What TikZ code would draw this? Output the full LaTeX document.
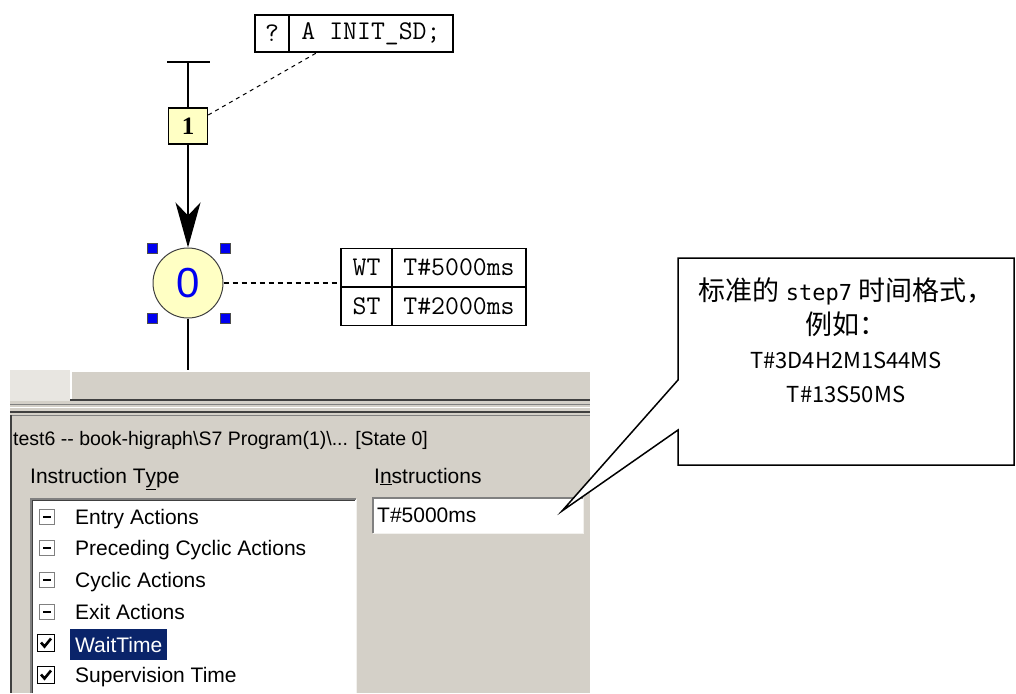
\documentclass[tikz,border=0pt]{standalone}
\usepackage{fontspec}
\setmainfont{Liberation Sans}
\newfontfamily\cjkfont{Noto Sans CJK SC}
\newfontfamily\stepfont{DejaVu Sans Mono}
\newfontfamily\serifbf{Liberation Serif}[Scale=1]
\usetikzlibrary{arrows.meta,positioning}
\definecolor{stepfill}{HTML}{FFFFC4}
\definecolor{handleblue}{HTML}{0000F0}
\definecolor{winface}{HTML}{D4D0C8}
\definecolor{winshadow}{HTML}{808080}
\definecolor{windark}{HTML}{404040}
\definecolor{winlight}{HTML}{F2F1EE}
\definecolor{hatchgray}{HTML}{E8E6E1}
\definecolor{selblue}{HTML}{0A246A}

\begin{document}
\begin{tikzpicture}[x=1pt, y=-1pt,
  ui/.style={font=\fontsize{21}{25}\selectfont, inner sep=0pt},
  cell/.style={draw, line width=1.5pt, outer sep=0pt, minimum height=38.5pt, inner sep=0pt, font=\ttfamily\fontsize{27}{27}\selectfont},
  trans/.style={draw, line width=1.5pt, fill=stepfill, minimum width=39pt, minimum height=36pt, inner sep=0pt, font=\serifbf\bfseries\fontsize{25}{25}\selectfont},
  stepnode/.style={circle, draw=black!75, line width=1pt, fill=stepfill, minimum size=70pt, inner sep=0pt, text=handleblue, font=\fontsize{42}{42}\selectfont},
  handle/.style={draw=black!70, fill=handleblue, minimum size=10pt, inner sep=0pt},
  minusbox/.style={draw=winshadow, line width=1pt, fill=white, minimum size=15pt, inner sep=0pt},
  checkbox/.style={draw=black, line width=1.5pt, fill=white, minimum size=17pt, inner sep=0pt},
  editbox/.style={fill=white, minimum width=210pt, minimum height=35pt, text width=202pt, align=left, inner xsep=4pt, inner ysep=0pt, font=\fontsize{21}{25}\selectfont},
  notetext/.style={align=center, inner sep=0pt, font=\cjkfont\fontsize{27}{34}\selectfont}]
\useasboundingbox (0,0) rectangle (1016,693);

% window below the chart
\fill[hatchgray] (10,370) rectangle (70,401);
\fill[winface] (70,370) rectangle (590,401);
\draw[white, line width=1.5pt] (71,400) |- (590,371);
\draw[windark, line width=2pt] (70,400) -- (590,400);
\fill[winface] (10,401) rectangle (590,693);
\draw[winshadow, line width=1pt] (10,404) -- (590,404);
\draw[white, line width=1pt] (10,407.5) -- (590,407.5);
\draw[windark, line width=2pt] (10,412) -- (590,412);
\draw[winshadow, line width=1.5pt] (10,415.5) -- (590,415.5);
\draw[windark, line width=2pt] (11,415) -- (11,693);

\node[ui, anchor=base west, font=\fontsize{19.5}{24}\selectfont] (title) at (13,445) {test6 -{}- book-higraph\textbackslash S7 Program(1)\textbackslash... [State 0]};
\node[ui, anchor=base west] (typelbl) at (30,483) {Instruction T\underline{y}pe};
\node[ui, anchor=base west] (instrlbl) at (374,483) {I\underline{n}structions};

\fill[white] (30,498) rectangle (356,693);
\draw[winshadow, line width=1.5pt] (30.75,693) |- (356,498.75);
\draw[windark, line width=1.5pt] (32.25,693) |- (355,500.25);
\draw[winlight, line width=1.5pt] (356.25,499) -- (356.25,693);

\foreach \y/\t [count=\i] in {517/Entry Actions, 548/Preceding Cyclic Actions, 580/Cyclic Actions, 612/Exit Actions}{
  \node[minusbox] (mb\i) at (47,\y) {};
  \draw[line width=1.5pt] ([xshift=-4pt]mb\i.center) -- ([xshift=4pt]mb\i.center);
  \node[ui, anchor=base west] (it\i) at (75,\y+7.5) {\t};
}
\node[checkbox] (cb1) at (46,643) {};
\node[checkbox] (cb2) at (46,675) {};
\foreach \c in {cb1,cb2}
  \draw[line width=2.6pt] ([shift={(-5,-0.5)}]\c.center) -- ([shift={(-1.5,3.5)}]\c.center) -- ([shift={(5,-4.5)}]\c.center);
\node[ui, anchor=west, fill=selblue, text=white, minimum height=31pt, inner xsep=5pt] (it5) at (70,644.5) {WaitTime};
\node[ui, anchor=base west] (it6) at (75,682.5) {Supervision Time};

\node[editbox, anchor=north west] (instr) at (373,498) {T\#5000ms};
\draw[winshadow, line width=1.5pt] (instr.south west) |- (instr.north east);
\draw[winlight, line width=1.5pt] (instr.south west) -| (instr.north east);

% step chart
\node[cell, minimum width=34pt, minimum height=37pt] (actq) at (272,33.5) {?};
\node[cell, minimum width=164pt, minimum height=37pt, right=0pt of actq] (acttxt) {A INIT\_SD;};

\coordinate (barL) at (167,62);
\coordinate (barR) at (210,62);
\draw[line width=1.5pt] (barL) -- (barR);
\node[trans] (t1) at (188,126) {1};
\draw[line width=1.5pt] (barL -| t1) -- (t1);

\node[stepnode] (s0) at (188,283) {0};
\draw[line width=1.5pt, -{Stealth[length=45pt, width=25pt, inset=13pt]}] (t1) -- (s0);
\foreach \dx/\dy [count=\k] in {-36/-35, 37/-35, -36/35, 37/35}
  \node[handle] (h\k) at ([shift={(\dx,\dy)}]s0.center) {};

\draw[line width=1pt, dash pattern=on 4pt off 4pt] ([yshift=11pt]t1.east) -- ([xshift=-53pt]acttxt.south);

\node[cell, minimum width=51pt] (wtk) at (366.5,267.5) {WT};
\node[cell, minimum width=134pt, right=0pt of wtk] (wtv) {T\#5000ms};
\node[cell, minimum width=51pt, below=0pt of wtk] (stk) {ST};
\node[cell, minimum width=134pt, right=0pt of stk] (stv) {T\#2000ms};
\draw[line width=1.2pt, dash pattern=on 5pt off 4pt] (s0.east) -- (s0.east -| wtk.west);

\coordinate (scrolltop) at (188,370);
\draw[line width=1.5pt] (s0) -- (scrolltop);

% callout
\draw[line width=1.5pt, fill=white] (678,258) -- (1014,258) -- (1014,465) -- (678,465) -- (678,430) -- (562,511) -- (678,380) -- cycle;
\node[notetext] (note) at (846,340) {标准的 {\stepfont\fontsize{22}{34}\selectfont step7} 时间格式，\\例如：\\{\fontsize{22}{34}\selectfont T\#3D4H2M1S44MS}\\{\fontsize{22}{34}\selectfont T\#13S50MS}};
\end{tikzpicture}
\end{document}
